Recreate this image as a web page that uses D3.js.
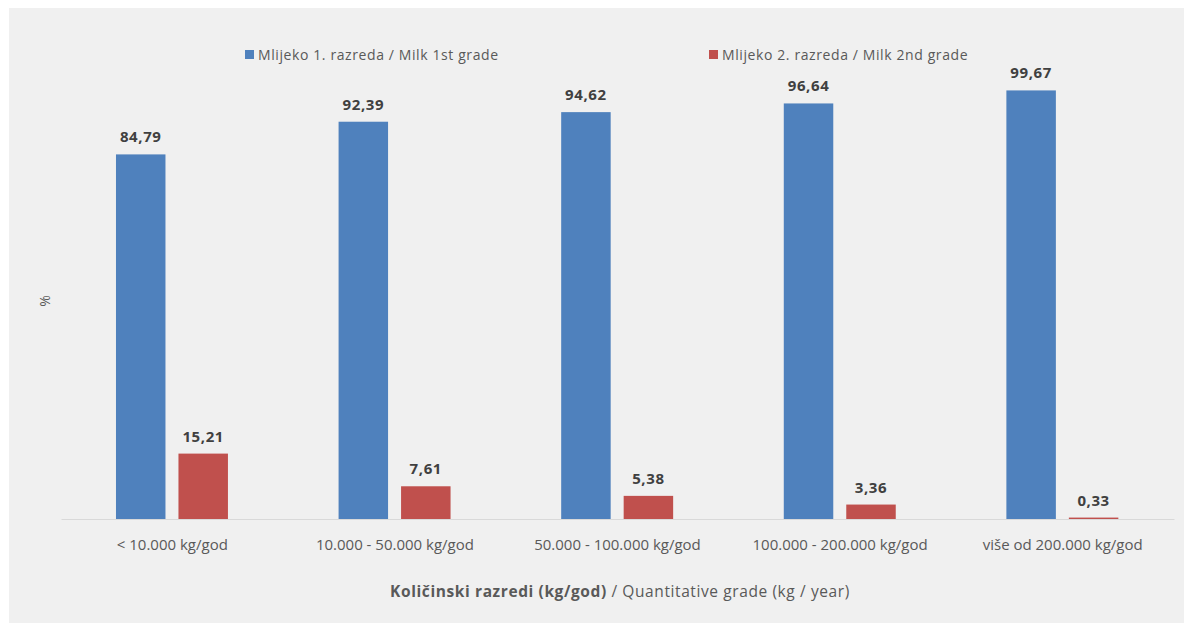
<!DOCTYPE html>
<html><head><meta charset="utf-8">
<script src="https://cdn.jsdelivr.net/npm/d3@7"></script>
<style>body{margin:0;background:#fff}svg{display:block}</style>
</head><body>
<script>
const categories = ["< 10.000 kg/god","10.000 - 50.000 kg/god","50.000 - 100.000 kg/god","100.000 - 200.000 kg/god","više od 200.000 kg/god"];
const milk1 = [84.79, 92.39, 94.62, 96.64, 99.67];
const milk2 = [15.21, 7.61, 5.38, 3.36, 0.33];
const seriesNames = ["Mlijeko 1. razreda / Milk 1st grade","Mlijeko 2. razreda / Milk 2nd grade"];
const colors = ["#4f81bd","#c0504d"];
const fmt = v => v.toFixed(2).replace(".", ",");

const W = 1184, H = 623;
const svg = d3.select("body").append("svg").attr("width", W).attr("height", H);
svg.append("rect").attr("x",9).attr("y",8).attr("width",W-9).attr("height",H-8).attr("fill","#f0f0f0");

const font = "'Open Sans', sans-serif";
const x0 = d3.scaleBand().domain(categories).range([61, 1174]);
const bw = x0.bandwidth();
const x1 = d3.scaleBand().domain([0,1]).range([0.247*bw, 0.75*bw]).paddingInner(0.208);
const y = d3.scaleLinear().domain([0, 100]).range([519, 89]);

const g = svg.append("g");
const data = categories.map((c,i)=>({c, vals:[milk1[i], milk2[i]]}));
const groups = g.selectAll("g.grp").data(data).enter().append("g").attr("transform", d=>`translate(${x0(d.c)},0)`);
groups.selectAll("rect").data(d=>d.vals.map((v,k)=>({v,k}))).enter().append("rect")
  .attr("x", d=>x1(d.k)).attr("width", x1.bandwidth())
  .attr("y", d=>y(d.v)).attr("height", d=>y(0)-y(d.v))
  .attr("fill", d=>colors[d.k]);
groups.selectAll("text").data(d=>d.vals.map((v,k)=>({v,k}))).enter().append("text")
  .attr("x", d=>x1(d.k)+x1.bandwidth()/2).attr("y", d=>y(d.v)-12)
  .attr("text-anchor","middle").attr("font-family",font).attr("font-size",15).attr("font-weight","bold")
  .attr("letter-spacing",0.6).attr("fill","#404040").text(d=>fmt(d.v));

// baseline axis
const xAxis = d3.axisBottom(x0).tickSize(0).tickPadding(20);
const ax = svg.append("g").attr("transform",`translate(0,${y(0)})`).call(xAxis);
ax.select(".domain").attr("stroke","#d9d9d9").attr("stroke-width",1.2);
ax.selectAll("text").attr("font-family",font).attr("font-size",15).attr("fill","#595959");

// axis title
const t = svg.append("text").attr("x", 620).attr("y", 597).attr("text-anchor","middle")
  .attr("font-family",font).attr("font-size",15.5).attr("letter-spacing",0.6).attr("fill","#595959");
t.append("tspan").attr("font-weight","bold").text("Količinski razredi (kg/god)");
t.append("tspan").text(" / Quantitative grade (kg / year)");

// y title
svg.append("text").attr("transform","translate(50,301) rotate(-90)").attr("text-anchor","middle")
  .attr("font-family",font).attr("font-size",14).attr("fill","#595959").text("%");

// legend
const legX = [245, 709];
seriesNames.forEach((s,i)=>{
  svg.append("rect").attr("x",legX[i]).attr("y",50).attr("width",9).attr("height",9).attr("fill",colors[i]);
  svg.append("text").attr("x",legX[i]+13).attr("y",60).attr("font-family",font).attr("font-size",14)
    .attr("letter-spacing",0.6).attr("fill","#595959").text(s);
});
</script>
</body></html>
